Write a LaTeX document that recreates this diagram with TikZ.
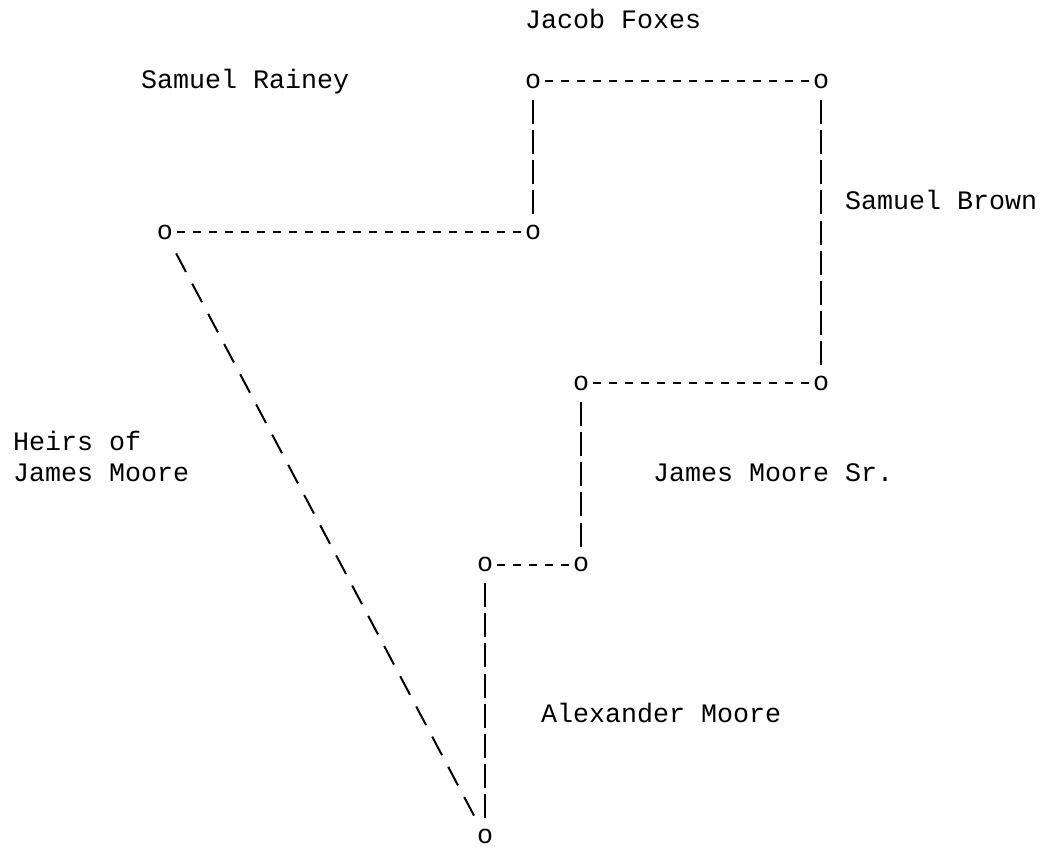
\documentclass[tikz,border=0pt]{standalone}
\usepackage{fontspec}
\newfontfamily\asc{Liberation Mono}
\newcommand\colx[1]{21+16*#1}
\newcommand\colleft[1]{13+16*#1}
\newcommand\rowy[1]{28+30.2*#1}
\tikzset{
  onode/.style={font=\fontsize{26.67}{30}\asc, inner sep=0pt, minimum width=16pt, minimum height=29pt, anchor=base},
  lbl/.style={font=\fontsize{26.67}{30}\asc, inner sep=0pt, anchor=base west},
  hcon/.style={line width=2pt, dash pattern=on 8.5pt off 7.5pt, dash phase=12.25pt},
  vcon/.style={line width=2pt, dash pattern=on 24pt off 6.2pt, dash phase=26.5pt},
  dcon/.style={line width=2pt, dash pattern=on 21pt off 13.18pt, dash phase=27pt},
}
\begin{document}
\begin{tikzpicture}[x=1pt,y=-1pt]
\useasboundingbox (0,0) rectangle (1041,847);
% corner points
\node[onode] (A) at ({\colx{32}},{\rowy{2}}) {o};
\node[onode] (B) at ({\colx{50}},{\rowy{2}}) {o};
\node[onode] (C) at ({\colx{9}},{\rowy{7}}) {o};
\node[onode] (D) at ({\colx{32}},{\rowy{7}}) {o};
\node[onode] (E) at ({\colx{35}},{\rowy{12}}) {o};
\node[onode] (F) at ({\colx{50}},{\rowy{12}}) {o};
\node[onode] (G) at ({\colx{29}},{\rowy{18}}) {o};
\node[onode] (H) at ({\colx{35}},{\rowy{18}}) {o};
\node[onode] (I) at ({\colx{29}},{\rowy{27}}) {o};
% labels
\node[lbl] (jf) at ({\colleft{32}},{\rowy{0}}) {Jacob Foxes};
\node[lbl] (sr) at ({\colleft{8}},{\rowy{2}}) {Samuel Rainey};
\node[lbl] (sb) at ({\colleft{52}},{\rowy{6}}) {Samuel Brown};
\node[lbl] (h1) at ({\colleft{0}},{\rowy{14}}) {Heirs of};
\node[lbl] (h2) at ({\colleft{0}},{\rowy{15}}) {James Moore};
\node[lbl] (jm) at ({\colleft{40}},{\rowy{15}}) {James Moore Sr.};
\node[lbl] (am) at ({\colleft{33}},{\rowy{23}}) {Alexander Moore};
% connectors
\draw[hcon] (A) -- (B);
\draw[vcon] (A) -- (D);
\draw[hcon] (C) -- (D);
\draw[vcon] (B) -- (F);
\draw[hcon] (E) -- (F);
\draw[vcon] (E) -- (H);
\draw[hcon] (G) -- (H);
\draw[vcon] (G) -- (I);
\draw[dcon] (C) -- (I);
\end{tikzpicture}
\end{document}
